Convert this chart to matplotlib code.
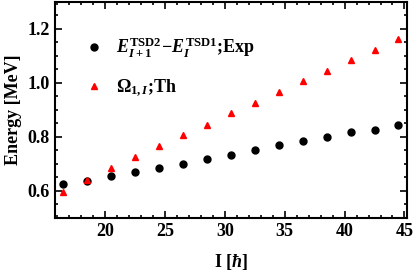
#!/usr/bin/env python3
# -*- coding: utf-8 -*-
"""
Energy difference TSD2 - TSD1 vs spin: experiment and theory
"""

import matplotlib
matplotlib.use("Agg")
import matplotlib.pyplot as plt
from matplotlib.ticker import MultipleLocator

# data
spin = [16.5, 18.5, 20.5, 22.5, 24.5, 26.5, 28.5, 30.5,
        32.5, 34.5, 36.5, 38.5, 40.5, 42.5, 44.5]
e_exp = [0.626, 0.638, 0.656, 0.669, 0.685, 0.701, 0.717, 0.733,
         0.752, 0.770, 0.785, 0.800, 0.817, 0.826, 0.844]
e_th = [0.597, 0.642, 0.684, 0.725, 0.768, 0.807, 0.844, 0.888,
        0.927, 0.968, 1.006, 1.046, 1.084, 1.123, 1.163]

plt.rcParams['font.family'] = ['Liberation Serif', 'DejaVu Serif']
plt.rcParams['font.weight'] = 'bold'
plt.rcParams['mathtext.fontset'] = 'custom'
plt.rcParams['mathtext.rm'] = 'Liberation Serif:bold'
plt.rcParams['mathtext.it'] = 'Liberation Serif:italic:bold'
plt.rcParams['mathtext.bf'] = 'Liberation Serif:bold'


def create_chart():
    fig = plt.figure(figsize=(4.16, 2.78), dpi=100)
    ax = fig.add_axes([0.132, 0.216, 0.846, 0.777])

    ax.plot(spin, e_exp, 'o', color='black', markersize=5,
            label=r'$E^{\mathrm{TSD2}}_{I+1}\!-\!E^{\mathrm{TSD1}}_{I}$;Exp')
    ax.plot(spin, e_th, '^', color='red', markersize=4.5,
            label=r'$\Omega_{1,I}$;Th')

    ax.set_xlim(15.8, 45.2)
    ax.set_ylim(0.5, 1.3)
    ax.xaxis.set_major_locator(MultipleLocator(5))
    ax.xaxis.set_minor_locator(MultipleLocator(1))
    ax.yaxis.set_major_locator(MultipleLocator(0.2))
    ax.yaxis.set_minor_locator(MultipleLocator(0.05))
    ax.tick_params(which='both', direction='in', top=True, right=True,
                   labelsize=13, width=1.2)
    ax.tick_params(which='major', length=5)
    ax.tick_params(which='minor', length=2.5)
    for s in ax.spines.values():
        s.set_linewidth(1.5)

    ax.set_xlabel(r'I [$\hbar$]', fontsize=13, fontweight='bold', labelpad=9)
    ax.set_ylabel('Energy [MeV]', fontsize=13, fontweight='bold', labelpad=4)

    ax.legend(loc='upper left', bbox_to_anchor=(0.04, 0.92), frameon=False,
              fontsize=13, handletextpad=0.7, labelspacing=1.0,
              handlelength=1.0)

    fig.savefig("out.png", dpi=100)
    plt.close(fig)


if __name__ == "__main__":
    create_chart()
